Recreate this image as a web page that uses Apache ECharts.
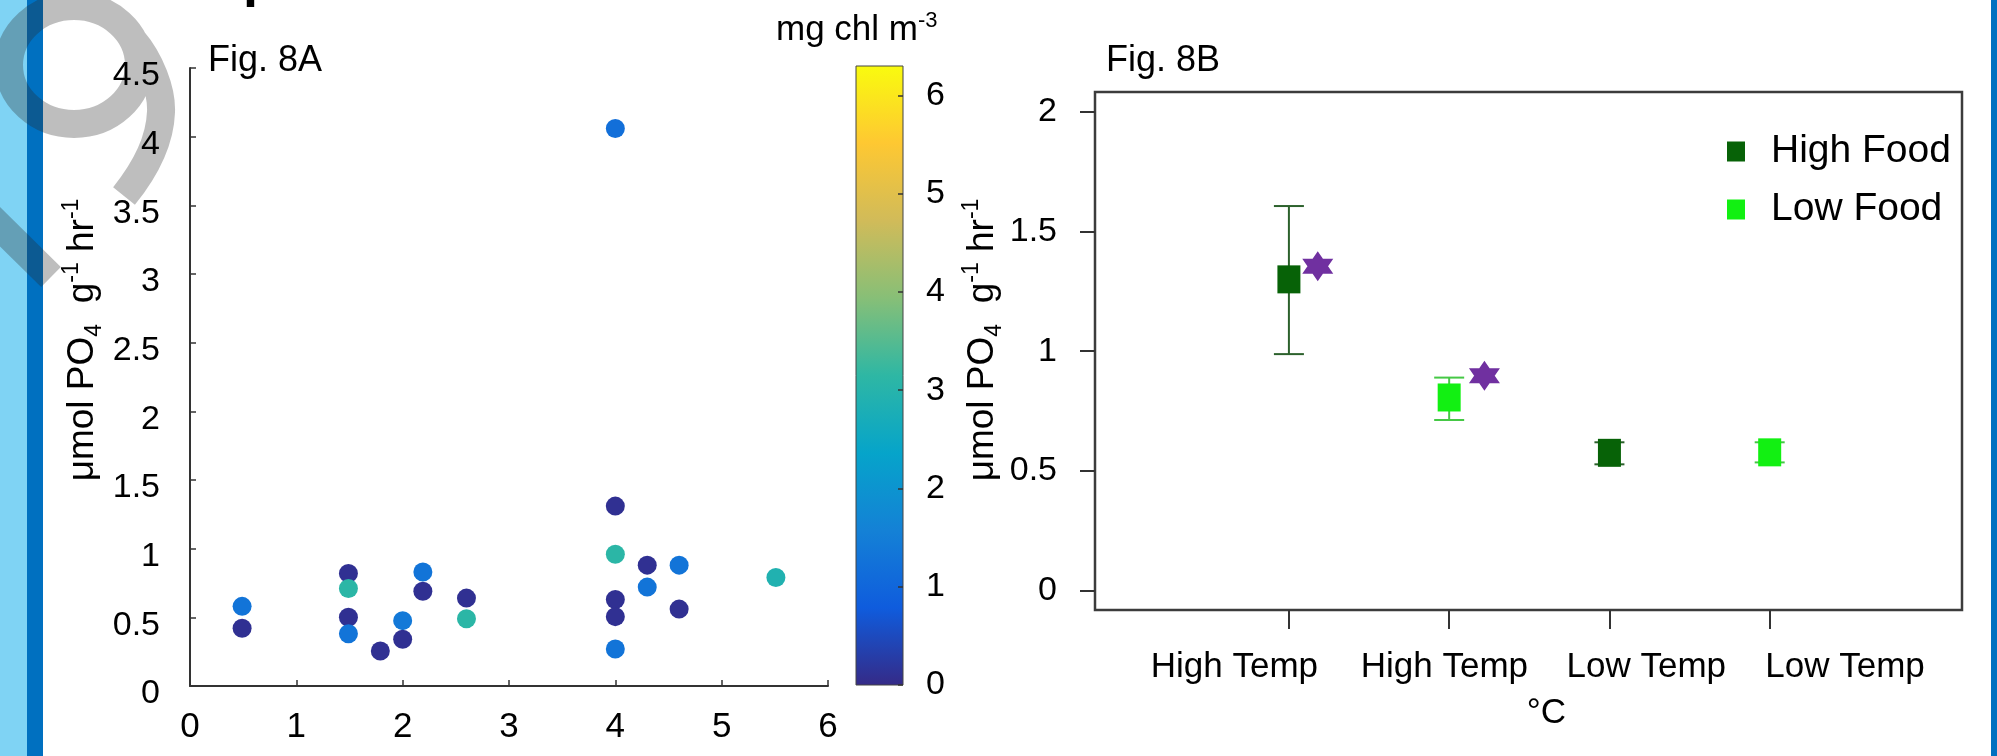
<!DOCTYPE html>
<html>
<head>
<meta charset="utf-8">
<script src="https://cdn.jsdelivr.net/npm/echarts@6/dist/echarts.min.js"></script>
<style>
  html, body { margin: 0; padding: 0; background: #fff; }
  #main { width: 1997px; height: 756px; }
</style>
</head>
<body>
<div id="main"></div>
<script>
// ---------- Fig. 8A: excretion rate per sample, coloured by chlorophyll ----------
const sampleX   = [0.49, 0.49, 1.49, 1.49, 1.49, 1.49, 1.79, 2.00, 2.00, 2.19, 2.19, 2.60, 2.60,
                   4.00, 4.00, 4.00, 4.00, 4.00, 4.00, 4.30, 4.30, 4.60, 4.60, 5.51];
const sampleRate = [0.58, 0.42, 0.82, 0.71, 0.50, 0.38, 0.255, 0.476, 0.34, 0.83, 0.69, 0.64, 0.49,
                   4.06, 1.31, 0.96, 0.63, 0.505, 0.27, 0.88, 0.72, 0.88, 0.56, 0.79];
const sampleChl  = [1.3, 0.1, 0.1, 3.1, 0.1, 1.3, 0.1, 1.4, 0.1, 1.3, 0.1, 0.1, 3.1,
                   1.2, 0.1, 3.1, 0.1, 0.1, 1.3, 0.1, 1.3, 1.3, 0.1, 2.9];
const chlTicks   = [0, 1, 2, 3, 4, 5, 6];
const chlRange   = [0, 6.3];

// ---------- Fig. 8B: treatment means with error bars ----------
const groupLabels = ['High Temp', 'High Temp', 'Low Temp', 'Low Temp'];
const groupFood   = ['High Food', 'Low Food', 'High Food', 'Low Food'];
const groupMean   = [1.30, 0.807, 0.576, 0.578];
const groupLower  = [0.988, 0.713, 0.528, 0.536];
const groupUpper  = [1.606, 0.89, 0.62, 0.62];
const starGroups  = [0, 1];
const starRate    = [1.355, 0.898];
const rateTicksB  = [0, 0.5, 1, 1.5, 2];

// ---------- styling ----------
const FONT = "'Liberation Sans', Arial, Helvetica, sans-serif";
const parula = ['#352a87', '#0f5cdd', '#1481d6', '#06a4ca', '#2eb7a4',
                '#87bf77', '#d1bb59', '#fec832', '#f9fb0e'];
const foodColor = { 'High Food': '#076207', 'Low Food': '#12f012' };
const errColor  = { 'High Food': '#2c612c', 'Low Food': '#45c845' };
const labelShift = [-0.34, -0.03, 0.23, 0.47];   // hand-placed category captions
const starShift = [0.18, 0.22];

// grey slide ornament in the top-left corner, stroked in one pass
const K = 0.5523;
echarts.graphic.registerShape('slideMark', echarts.graphic.extendShape({
  shape: {},
  buildPath(ctx) {
    const cx = 74, cy = 65, rx = 65, ry = 59;
    ctx.moveTo(cx + rx, cy);
    ctx.bezierCurveTo(cx + rx, cy + K * ry, cx + K * rx, cy + ry, cx, cy + ry);
    ctx.bezierCurveTo(cx - K * rx, cy + ry, cx - rx, cy + K * ry, cx - rx, cy);
    ctx.bezierCurveTo(cx - rx, cy - K * ry, cx - K * rx, cy - ry, cx, cy - ry);
    ctx.bezierCurveTo(cx + K * rx, cy - ry, cx + rx, cy - K * ry, cx + rx, cy);
    ctx.closePath();
    ctx.moveTo(133, 40);
    ctx.bezierCurveTo(150, 60, 162, 90, 161, 112);
    ctx.bezierCurveTo(160, 140, 145, 170, 124, 196);
    ctx.moveTo(-20, 207);
    ctx.lineTo(51, 277);
  }
}));

const rateName = {
  text: '{n|μmol PO}{sub|4}{n|  g}{sup|-1}{n| hr}{sup|-1}',
  rich: {
    n:   { fontSize: 37, fontFamily: FONT, color: '#000', lineHeight: 46 },
    sub: { fontSize: 23, fontFamily: FONT, color: '#000', lineHeight: 23, verticalAlign: 'bottom' },
    sup: { fontSize: 23, fontFamily: FONT, color: '#000', lineHeight: 23, verticalAlign: 'top' }
  }
};

const chart = echarts.init(document.getElementById('main'), null, { renderer: 'canvas' });

const scatterData = sampleX.map((x, i) => [x, sampleRate[i], sampleChl[i]]);
const meanData = name => groupMean
  .map((m, i) => groupFood[i] === name ? [i + 1, m] : null)
  .filter(d => d);
const errData = groupMean.map((m, i) => [i + 1, groupLower[i], groupUpper[i], groupFood[i] === 'High Food' ? 0 : 1]);
const starData = starGroups.map((g, i) => [g + 1 + starShift[i], starRate[i]]);
const labelPos = groupLabels.map((l, i) => i + 1 + labelShift[i]);

const axisText = { color: '#000', fontFamily: FONT };

const option = {
  backgroundColor: '#fff',
  animation: false,
  grid: [
    { left: 190, top: 68, width: 638, height: 618, show: false },
    { left: 1095, top: 92, width: 867, height: 518, show: true,
      borderColor: '#3c3c3c', borderWidth: 2.5, backgroundColor: 'transparent' },
    { left: 856, top: 66, width: 47, height: 619, show: true,
      borderColor: '#444', borderWidth: 1,
      backgroundColor: new echarts.graphic.LinearGradient(0, 1, 0, 0,
        parula.map((c, i) => ({ offset: i / (parula.length - 1), color: c }))) }
  ],
  visualMap: {
    type: 'continuous', show: false, seriesIndex: 0, dimension: 2,
    min: chlRange[0], max: chlRange[1], inRange: { color: parula }
  },
  legend: {
    data: [{ name: 'High Food', icon: 'rect' }, { name: 'Low Food', icon: 'rect' }],
    orient: 'vertical', left: 1727, top: 132, padding: 0,
    itemWidth: 18, itemHeight: 20, itemGap: 19,
    formatter: '{t|{name}}',
    textStyle: { rich: { t: { fontSize: 39, fontFamily: FONT, color: '#000', lineHeight: 46, padding: [0, 0, 0, 21] } } }
  },
  xAxis: [
    { type: 'value', gridIndex: 0, min: 0, max: 6, interval: 1,
      axisLine: { show: true, onZero: false, lineStyle: { color: '#333', width: 2 } },
      axisTick: { show: true, inside: true, length: 6, lineStyle: { color: '#333', width: 1.5 } },
      axisLabel: Object.assign({ fontSize: 35, margin: 24 }, axisText),
      splitLine: { show: false } },
    { type: 'value', gridIndex: 1, min: -0.21, max: 5.2,
      axisLine: { show: false, onZero: false },
      axisTick: { show: true, length: 19, customValues: groupLabels.map((l, i) => i + 1),
                  lineStyle: { color: '#333', width: 2 } },
      axisLabel: Object.assign({
        fontSize: 35, margin: 40, customValues: labelPos,
        formatter: v => {
          let best = 0;
          labelPos.forEach((p, i) => { if (Math.abs(p - v) < Math.abs(labelPos[best] - v)) best = i; });
          return groupLabels[best];
        } }, axisText),
      splitLine: { show: false },
      name: '°C', nameLocation: 'middle', nameGap: 103,
      nameTextStyle: { fontSize: 35, fontFamily: FONT, color: '#000', verticalAlign: 'middle', padding: [0, 0, 0, 36] } },
    { type: 'value', gridIndex: 2, show: false, min: 0, max: 1 }
  ],
  yAxis: [
    { type: 'value', gridIndex: 0, min: 0, max: 4.5, interval: 0.5,
      axisLine: { show: true, onZero: false, lineStyle: { color: '#333', width: 2 } },
      axisTick: { show: true, inside: true, length: 6, lineStyle: { color: '#333', width: 1.5 } },
      axisLabel: Object.assign({ margin: 30, formatter: '{v|{value}}',
        rich: { v: { fontSize: 34, fontFamily: FONT, color: '#000', padding: [16, 0, 0, 0] } } }, axisText),
      splitLine: { show: false },
      name: rateName.text, nameLocation: 'middle', nameGap: 107,
      nameTextStyle: { rich: rateName.rich, verticalAlign: 'middle', padding: [0, 0, 0, 74] } },
    { type: 'value', gridIndex: 1, min: -0.08, max: 2.082,
      axisLine: { show: false, onZero: false },
      axisTick: { show: true, length: 15, customValues: rateTicksB, lineStyle: { color: '#333', width: 2 } },
      axisLabel: Object.assign({ fontSize: 34, margin: 38, customValues: rateTicksB }, axisText),
      splitLine: { show: false },
      name: rateName.text, nameLocation: 'middle', nameGap: 107,
      nameTextStyle: { rich: rateName.rich, verticalAlign: 'middle', padding: [0, 0, 0, 22] } },
    { type: 'value', gridIndex: 2, position: 'right', min: chlRange[0], max: chlRange[1],
      axisLine: { show: false, onZero: false },
      axisTick: { show: true, inside: true, length: 5, customValues: chlTicks, lineStyle: { color: '#333', width: 1.5 } },
      axisLabel: Object.assign({ fontSize: 34, margin: 23, customValues: chlTicks }, axisText),
      splitLine: { show: false } }
  ],
  series: [
    { type: 'scatter', name: 'samples', xAxisIndex: 0, yAxisIndex: 0,
      data: scatterData, symbol: 'circle', symbolSize: 19, z: 3,
      itemStyle: { opacity: 1 } },
    { type: 'custom', name: 'error', xAxisIndex: 1, yAxisIndex: 1, z: 2,
      data: errData,
      encode: { x: 0, y: [1, 2] },
      renderItem: (params, api) => {
        const x = api.value(0);
        const top = api.coord([x, api.value(2)]);
        const bot = api.coord([x, api.value(1)]);
        const c = api.value(3) === 0 ? errColor['High Food'] : errColor['Low Food'];
        const half = 15;
        const st = { stroke: c, lineWidth: 2 };
        return { type: 'group', children: [
          { type: 'line', shape: { x1: top[0], y1: top[1], x2: bot[0], y2: bot[1] }, style: st },
          { type: 'line', shape: { x1: top[0] - half, y1: top[1], x2: top[0] + half, y2: top[1] }, style: st },
          { type: 'line', shape: { x1: bot[0] - half, y1: bot[1], x2: bot[0] + half, y2: bot[1] }, style: st }
        ] };
      } },
    { type: 'scatter', name: 'High Food', xAxisIndex: 1, yAxisIndex: 1, z: 4,
      data: meanData('High Food'), symbol: 'rect', symbolSize: [23, 28],
      itemStyle: { color: foodColor['High Food'], opacity: 1 } },
    { type: 'scatter', name: 'Low Food', xAxisIndex: 1, yAxisIndex: 1, z: 4,
      data: meanData('Low Food'), symbol: 'rect', symbolSize: [23, 28],
      itemStyle: { color: foodColor['Low Food'], opacity: 1 } },
    { type: 'scatter', name: 'significant', xAxisIndex: 1, yAxisIndex: 1, z: 4,
      data: starData,
      symbol: 'path://M0,-10L8.66,5L-8.66,5ZM0,10L-8.66,-5L8.66,-5Z',
      symbolSize: [31, 30], itemStyle: { color: '#7030a0', opacity: 1 } }
  ],
  graphic: [
    { type: 'rect', z: -30, shape: { x: 0, y: 0, width: 27, height: 756 }, style: { fill: '#7fd3f4' } },
    { type: 'rect', z: -30, shape: { x: 27, y: 0, width: 16, height: 756 }, style: { fill: '#0070c0' } },
    { type: 'rect', z: -30, shape: { x: 1991, y: 0, width: 6, height: 756 }, style: { fill: '#0070c0' } },
    { type: 'slideMark', z: -20,
      style: { fill: null, stroke: 'rgba(40,40,40,0.3)', lineWidth: 28, lineCap: 'butt' } },
    { type: 'text', z: -10, x: 243, y: -19,
      style: { text: 'p', fontSize: 54, fontWeight: 'bold', fontFamily: FONT, fill: '#000', verticalAlign: 'middle' } },
    { type: 'text', x: 208, y: 61,
      style: { text: 'Fig. 8A', fontSize: 36, fontFamily: FONT, fill: '#000', verticalAlign: 'middle' } },
    { type: 'text', x: 1106, y: 61,
      style: { text: 'Fig. 8B', fontSize: 36, fontFamily: FONT, fill: '#000', verticalAlign: 'middle' } },
    { type: 'text', x: 776, y: 30,
      style: { text: '{a|mg chl m}{s|-3}', verticalAlign: 'middle',
        rich: { a: { fontSize: 35, fontFamily: FONT, fill: '#000', lineHeight: 40 },
                s: { fontSize: 22, fontFamily: FONT, fill: '#000', lineHeight: 20, verticalAlign: 'top' } } } }
  ]
};

chart.setOption(option);
</script>
</body>
</html>
